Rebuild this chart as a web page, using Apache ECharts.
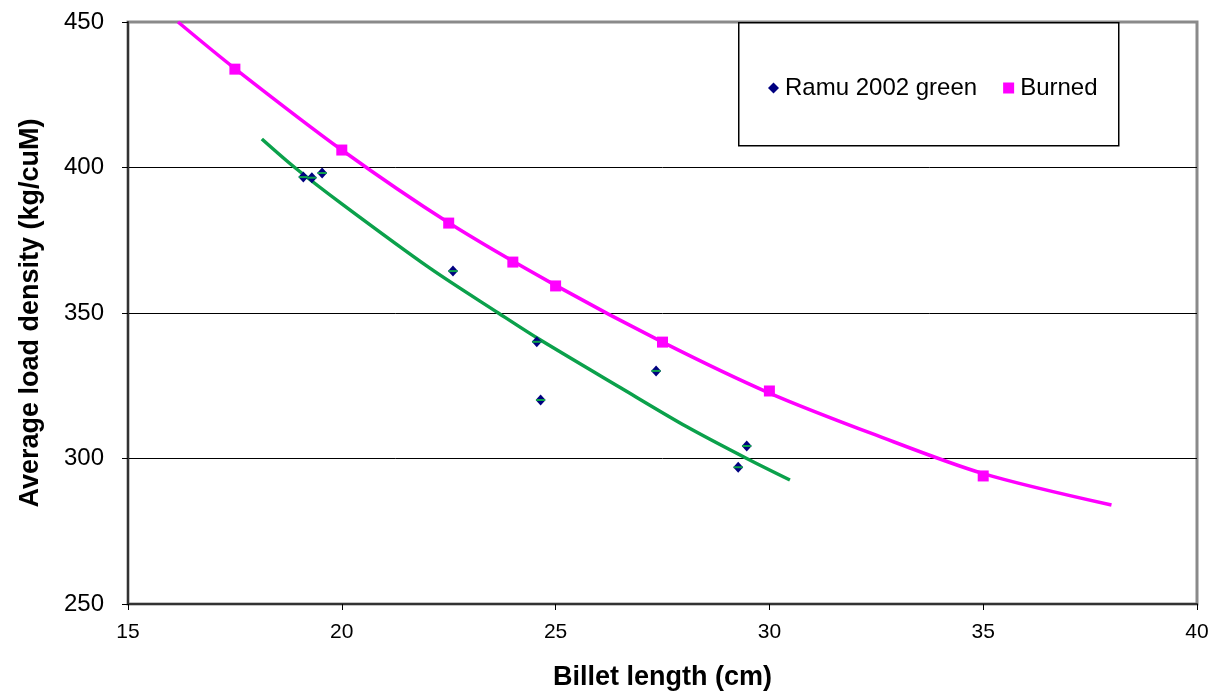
<!DOCTYPE html>
<html>
<head>
<meta charset="utf-8">
<script src="https://cdn.jsdelivr.net/npm/echarts@6/dist/echarts.min.js"></script>
<style>
html,body{margin:0;padding:0;background:#fff;}
#main{width:1216px;height:700px;}
</style>
</head>
<body>
<div id="main"></div>
<script>
// Observed data
const greenX = [19.1, 19.3, 19.54, 22.6, 24.56, 24.65, 27.35, 29.47, 29.27];
const greenY = [396.7, 396.5, 398.1, 364.4, 340.1, 320.1, 330.1, 304.3, 297.0];
const burnedX = [17.5, 20, 22.5, 24, 25, 27.5, 30, 35];
const burnedY = [433.8, 406, 380.9, 367.5, 359.3, 340, 323.2, 294];
// Trend lines
const greenTrendX = [18.13, 18.9, 20, 22.06, 23.66, 24.56, 26.51, 28.07, 29.47, 30.48];
const greenTrendY = [409.8, 400, 387.5, 365.4, 350, 341.5, 324.4, 310.9, 300, 292.6];
const burnedTrendX = [16.17, 17.5, 20, 22.5, 25, 27.5, 30, 32.5, 35, 38];
const burnedTrendY = [450, 434, 406, 381, 359.5, 340, 322.5, 308, 294.8, 284];
const xTicks = [15, 20, 25, 30, 35, 40];
const yTicks = [250, 300, 350, 400, 450];

const zip = (xs, ys) => xs.map((x, i) => [x, ys[i]]);
const font = 'Liberation Sans, Arial, sans-serif';

const chart = echarts.init(document.getElementById('main'));
chart.setOption({
  animation: false,
  backgroundColor: '#fff',
  grid: { left: 128, right: 19, top: 22, bottom: 96, show: true, borderColor: '#8a8a8a', borderWidth: 3, backgroundColor: 'transparent' },
  graphic: [{
    type: 'rect', left: 738, top: 22, z: 10,
    shape: { width: 380, height: 123 },
    style: { fill: '#fff', stroke: '#000', lineWidth: 1.5 }
  }],
  legend: {
    data: [
      { name: 'Ramu 2002 green', icon: 'diamond', itemStyle: { color: '#000080', opacity: 1 } },
      { name: 'Burned', icon: 'rect', itemStyle: { color: '#ff00ff', opacity: 1 } }
    ],
    left: 763, top: 71, z: 20,
    itemWidth: 11, itemHeight: 11, itemGap: 26,
    textStyle: { fontFamily: font, fontSize: 24, color: '#000', padding: [0, 0, 0, 1] }
  },
  xAxis: {
    type: 'value', min: xTicks[0], max: xTicks[xTicks.length - 1], interval: 5,
    name: 'Billet length (cm)', nameLocation: 'middle', nameGap: 60,
    nameTextStyle: { fontFamily: font, fontSize: 27, fontWeight: 'bold', color: '#000' },
    axisLine: { show: true, onZero: false, lineStyle: { color: '#333', width: 2 } },
    axisTick: { show: true, inside: false, length: 6, lineStyle: { color: '#000' } },
    axisLabel: { fontFamily: font, fontSize: 21, color: '#000', margin: 18 },
    splitLine: { show: false }
  },
  yAxis: {
    type: 'value', min: yTicks[0], max: yTicks[yTicks.length - 1], interval: 50,
    name: 'Average load density (kg/cuM)', nameLocation: 'middle', nameGap: 84,
    nameTextStyle: { fontFamily: font, fontSize: 27, fontWeight: 'bold', color: '#000' },
    axisLine: { show: true, onZero: false, lineStyle: { color: '#333', width: 2 } },
    axisTick: { show: true, inside: false, length: 6, lineStyle: { color: '#000' } },
    axisLabel: { fontFamily: font, fontSize: 24, color: '#000', margin: 24 },
    splitLine: { show: true, showMinLine: false, showMaxLine: false, lineStyle: { color: '#000', width: 1 } }
  },
  series: [
    {
      name: 'Burned trend', type: 'line', data: zip(burnedTrendX, burnedTrendY),
      smooth: 0.3, symbol: 'none', lineStyle: { color: '#ff00ff', width: 3.5 }, z: 2, silent: true
    },
    {
      name: 'Green trend', type: 'line', data: zip(greenTrendX, greenTrendY),
      smooth: 0.3, symbol: 'none', lineStyle: { color: '#0ba14b', width: 3.5 }, z: 2, silent: true
    },
    {
      name: 'Ramu 2002 green', type: 'scatter', data: zip(greenX, greenY),
      symbol: 'diamond', symbolSize: [10, 11], itemStyle: { color: '#000080', opacity: 1 }, z: 3
    },
    {
      name: 'Ramu 2002 green dash', type: 'scatter', data: zip(greenX, greenY),
      symbol: 'rect', symbolSize: [9, 2], itemStyle: { color: '#0ba14b', opacity: 1 }, z: 4, silent: true
    },
    {
      name: 'Burned', type: 'scatter', data: zip(burnedX, burnedY),
      symbol: 'rect', symbolSize: 11, itemStyle: { color: '#ff00ff', opacity: 1 }, z: 3
    }
  ]
});
</script>
</body>
</html>
